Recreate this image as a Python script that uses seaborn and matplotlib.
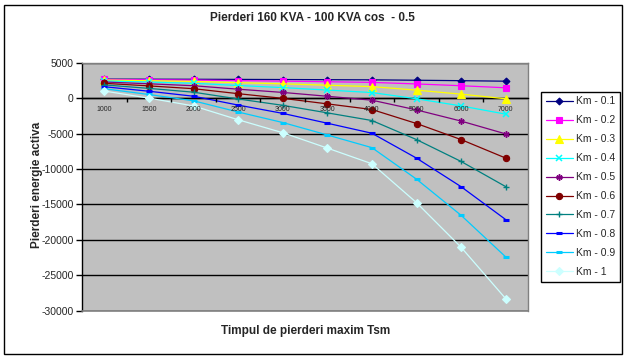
#!/usr/bin/env python3
"""
Pierderi 160 KVA - 100 KVA, cos = 0.5: energy loss difference vs Tsm for several Km.
"""

import matplotlib
matplotlib.use("Agg")
import matplotlib.pyplot as plt
import seaborn as sns
from matplotlib.patches import Rectangle

# categories on the x axis (Tsm)
tsm = ["1000", "1500", "2000", "2500", "3000", "3500", "4000", "5000", "6000", "7000"]

# series
km_01 = [2683, 2673, 2662, 2643, 2624, 2603, 2580, 2526, 2463, 2390]
km_02 = [2632, 2592, 2548, 2470, 2397, 2310, 2222, 2002, 1750, 1460]
km_03 = [2547, 2457, 2358, 2182, 2018, 1822, 1624, 1129, 562, -90]
km_04 = [2428, 2268, 2092, 1780, 1487, 1140, 786, -92, -1100, -2260]
km_05 = [2275, 2025, 1750, 1262, 805, 262, -290, -1663, -3238, -5050]
km_06 = [2088, 1728, 1332, 630, -29, -810, -1606, -3582, -5850, -8460]
km_07 = [1867, 1377, 838, -118, -1014, -2078, -3160, -5851, -8938, -12490]
km_08 = [1612, 972, 268, -980, -2151, -3540, -4954, -8468, -12500, -17140]
km_09 = [1323, 513, -378, -1958, -3440, -5198, -6988, -11435, -16538, -22410]
km_10 = [1000, 0, -1100, -3050, -4880, -7050, -9260, -14750, -21050, -28300]

labels = ["Km - 0.1", "Km - 0.2", "Km - 0.3", "Km - 0.4", "Km - 0.5",
          "Km - 0.6", "Km - 0.7", "Km - 0.8", "Km - 0.9", "Km - 1"]
series = [km_01, km_02, km_03, km_04, km_05, km_06, km_07, km_08, km_09, km_10]

# (color, marker, markersize, markeredgewidth)
styles = [
    ("#000080", "D", 3.5, 0.8),
    ("#FF00FF", "s", 4.5, 0.8),
    ("#FFFF00", "^", 5.5, 0.8),
    ("#00FFFF", "x", 3.8, 1.1),
    ("#800080", (6, 2, 0), 4.5, 1.1),
    ("#800000", "o", 4.5, 0.8),
    ("#008080", "+", 4.5, 1.0),
    ("#0000FF", "_", 3.8, 2.2),
    ("#00CCFF", "_", 5.0, 2.2),
    ("#CCFFFF", "D", 4.3, 0.8),
]

sns.set_style("white")
plt.rcParams["font.family"] = ["Liberation Sans", "DejaVu Sans"]
plt.rcParams["axes.unicode_minus"] = False

fig = plt.figure(figsize=(6.28, 3.60), dpi=100)
ax = fig.add_axes([82 / 628, 1 - 310.7 / 360, 446 / 628, 248 / 360])
ax.set_facecolor("#C0C0C0")

for lab, vals, (col, mk, ms, mew) in zip(labels, series, styles):
    sns.lineplot(x=tsm, y=vals, ax=ax, sort=False, color=col, marker=mk,
                 markersize=ms, markeredgewidth=mew, markeredgecolor=col,
                 markerfacecolor=col, linewidth=0.9, label=lab, zorder=3)

# axes
ax.set_xlim(-0.5, len(tsm) - 0.5)
ax.set_ylim(-30000, 5000)
ax.set_yticks(range(-30000, 5001, 5000))
ax.yaxis.grid(True, color="black", linewidth=1.0)
ax.set_axisbelow(True)
# category labels sit on top of the lines, like in the original
ax.xaxis.set_zorder(5)

for side in ["top", "right"]:
    ax.spines[side].set_color("#808080")
    ax.spines[side].set_linewidth(1.0)
ax.spines["left"].set_color("black")
ax.spines["left"].set_linewidth(1.0)
ax.spines["bottom"].set_position(("data", 0))
ax.spines["bottom"].set_color("black")
ax.spines["bottom"].set_linewidth(1.0)
ax.axhline(-30000, color="#808080", linewidth=1.2, clip_on=False, zorder=4)

ax.set_xticks(range(len(tsm)))
ax.set_xticklabels(tsm)
ax.set_xticks([i + 0.5 for i in range(len(tsm) - 1)], minor=True)
ax.tick_params(axis="x", which="major", length=0, pad=5.5, labelsize=5)
ax.tick_params(axis="x", which="minor", direction="out", length=3, width=1, color="black", bottom=True)
ax.tick_params(axis="y", direction="out", length=4, width=1, color="black", left=True,
               labelsize=7.5, pad=2)
ax.set_xlabel("")
ax.set_ylabel("")

# titles
fig.text(0.497, 1 - 18 / 360, "Pierderi 160 KVA - 100 KVA cos  - 0.5",
         ha="center", va="center", fontsize=8.5, fontweight="bold")
fig.text(0.486, 1 - 331 / 360, "Timpul de pierderi maxim Tsm",
         ha="center", va="center", fontsize=8.5, fontweight="bold")
fig.text(37 / 628, 1 - 185 / 360, "Pierderi energie activa", rotation=90,
         ha="center", va="center", fontsize=8.5, fontweight="bold")

# legend
handles, labs = ax.get_legend_handles_labels()
leg = ax.legend(handles, labs, loc="upper left", bbox_to_anchor=(541 / 628, 1 - 91.7 / 360),
                bbox_transform=fig.transFigure, fontsize=7.5, frameon=True, fancybox=False,
                edgecolor="black", framealpha=1, handlelength=2.6, handletextpad=0.3,
                labelspacing=0.86, borderpad=0.45, borderaxespad=0)
leg.get_frame().set_linewidth(1.0)

# outer chart border
fig.patches.append(Rectangle((4 / 628, 1 - 354 / 360), 618 / 628, 349 / 360,
                             transform=fig.transFigure, fill=False,
                             edgecolor="black", linewidth=1.0))

fig.savefig("out.png", dpi=100)
plt.close(fig)
